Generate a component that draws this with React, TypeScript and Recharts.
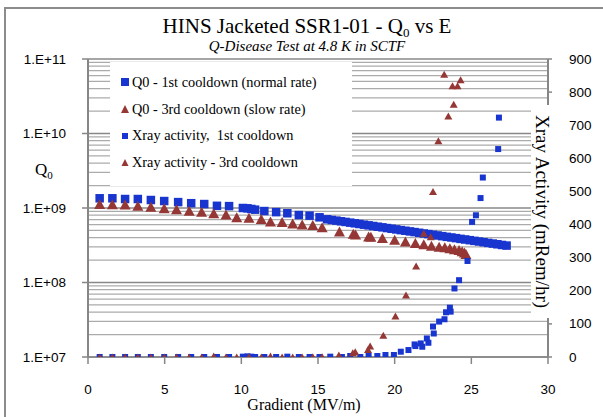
import React from "react";
import { ComposedChart, Scatter, XAxis, YAxis, ReferenceLine } from "recharts";

// Q0 vs gradient, 1st cooldown (normal rate)
const q0FirstE = [
  0.76, 1.59, 2.42, 3.25, 4.1, 4.97, 5.88, 6.73, 7.58, 8.41, 9.2, 10.1, 10.4, 10.65, 10.9, 11.5, 12.27, 13.0, 13.75,
  14.45, 15.1, 15.6, 15.9, 16.2, 16.5, 16.8, 17.1, 17.4, 17.7, 18.0, 18.3, 18.6, 18.9, 19.2, 19.5, 19.8, 20.1, 20.4,
  20.7, 21.0, 21.3, 21.6, 21.9, 22.2, 22.5, 22.8, 23.1, 23.4, 23.7, 24.0, 24.3, 24.6, 24.9, 25.2, 25.5, 25.8, 26.1,
  26.4, 26.7, 27.0, 27.3,
];
const q0First = [
  1.35e9, 1.35e9, 1.32e9, 1.32e9, 1.28e9, 1.24e9, 1.2e9, 1.16e9, 1.13e9, 1.07e9, 1.06e9, 1.0e9, 9.9e8, 9.7e8, 9.5e8,
  9.1e8, 8.8e8, 8.5e8, 8.05e8, 7.9e8, 7.5e8, 7.05e8, 6.9e8, 6.77e8, 6.63e8, 6.5e8, 6.36e8, 6.23e8, 6.1e8, 5.97e8,
  5.85e8, 5.73e8, 5.61e8, 5.5e8, 5.38e8, 5.27e8, 5.16e8, 5.05e8, 4.95e8, 4.85e8, 4.75e8, 4.65e8, 4.55e8, 4.46e8,
  4.37e8, 4.28e8, 4.19e8, 4.1e8, 4.02e8, 3.94e8, 3.85e8, 3.78e8, 3.7e8, 3.62e8, 3.55e8, 3.47e8, 3.4e8, 3.33e8,
  3.26e8, 3.19e8, 3.13e8,
];

// Q0 vs gradient, 3rd cooldown (slow rate)
const q0ThirdE = [
  0.76, 1.59, 2.42, 3.25, 4.1, 4.97, 5.77, 6.6, 7.41, 8.2, 9.0, 9.7, 10.5, 11.3, 11.9, 12.66, 13.35, 13.97, 14.66,
  15.27, 16.4, 17.3, 17.45, 18.3, 18.45, 19.2, 20.0, 20.7, 21.35, 21.9, 22.4, 22.9, 23.27, 23.6, 23.9, 24.2, 24.4,
  24.55, 24.65,
];
const q0Third = [
  1.13e9, 1.12e9, 1.11e9, 1.07e9, 1.04e9, 9.9e8, 9.6e8, 9.2e8, 8.9e8, 8.5e8, 8.2e8, 7.5e8, 7.4e8, 7.1e8, 6.6e8, 6.5e8,
  6.2e8, 6.0e8, 5.9e8, 5.5e8, 4.85e8, 4.5e8, 4.4e8, 4.15e8, 4.1e8, 3.95e8, 3.75e8, 3.55e8, 3.4e8, 3.27e8, 3.12e8,
  3.02e8, 2.97e8, 2.88e8, 2.8e8, 2.73e8, 2.62e8, 2.52e8, 2.41e8,
];

// X-ray activity (mRem/hr), 1st cooldown
const xrayFirstE = [
  0.76, 1.59, 2.42, 3.25, 4.1, 4.97, 5.88, 6.73, 7.58, 8.41, 9.2, 10.1, 10.4, 10.65, 10.9, 11.5, 12.27, 13.0, 13.75,
  14.45, 15.1, 15.8, 16.56, 17.1, 17.76, 18.3, 18.87, 19.4, 19.95, 20.4, 20.9, 21.3, 21.35, 21.7, 21.8, 22.1, 22.2,
  22.5, 22.55, 22.9, 23.25, 23.35, 23.6, 23.65, 23.9, 24.2, 24.75, 25.05, 25.3, 25.6, 25.75, 26.75, 26.8,
];
const xrayFirst = [
  0, 0, 0, 0, 0, 0, 0, 0, 0, 0, 0, 1, 2, 1, 0, 0, 0, 1, 0, 0, 0, 1, 0, 3, 0, 3, 3, 6, 6, 16, 21, 38, 33, 41, 31, 56,
  43, 92, 71, 107, 114, 135, 149, 137, 207, 232, 290, 408, 428, 480, 542, 628, 723,
];

// X-ray activity (mRem/hr), 3rd cooldown
const xrayThirdE = [
  0.76, 1.59, 2.42, 3.25, 4.1, 4.97, 5.77, 6.6, 7.41, 8.2, 9.0, 9.7, 10.5, 11.3, 11.9, 12.66, 13.35, 13.97, 14.66,
  15.27, 16.36, 17.27, 17.43, 18.26, 18.4, 19.26, 20.05, 20.74, 21.4, 21.9, 22.35, 22.5, 22.85, 23.23, 23.5, 23.77,
  23.85, 24.1, 24.3,
];
const xrayThird = [
  0, 0, 0, 0, 0, 0, 0, 0, 0, 3, 0, 0, 1, 0, 3, 0, 0, 0, 1, 1, 6, 13, 16, 23, 33, 66, 124, 187, 275, 374, 363, 500, 653,
  854, 728, 819, 763, 819, 837,
];

const xTicks = [0, 5, 10, 15, 20, 25, 30];
const qTicks = [1e7, 1e8, 1e9, 1e10, 1e11];
const xrayTicks = [0, 100, 200, 300, 400, 500, 600, 700, 800, 900];
const decades = [1e7, 1e8, 1e9, 1e10];
const minorSteps = [2, 3, 4, 5, 6, 7, 8, 9];

const zip = (es: number[], vs: number[]) => es.map((e, i) => ({ e, v: vs[i] }));

const SERIF = '"Liberation Serif", "Times New Roman", serif';
const SANS = '"Liberation Sans", Arial, sans-serif';
const BLUE = "#1835CF";
const BROWN = "#953735";
const GRID_MINOR = "#ababab";
const GRID_MAJOR = "#888888";
const AXIS = "#868686";

const square = (size: number) => (p: any) =>
  p.cx == null ? <g /> : <rect x={p.cx - size / 2} y={p.cy - size / 2} width={size} height={size} fill={BLUE} />;

const triangle = (w: number, h: number) => (p: any) =>
  p.cx == null ? (
    <g />
  ) : (
    <polygon
      points={`${p.cx - w / 2},${p.cy + h / 2} ${p.cx + w / 2},${p.cy + h / 2} ${p.cx},${p.cy - h / 2}`}
      fill={BROWN}
    />
  );

const fmtQ = (v: number) => {
  const exp = Math.round(Math.log10(v));
  return `1.E+${String(exp).padStart(2, "0")}`;
};

const LeftTick = (p: any) => (
  <text x={66} y={p.y} textAnchor="end" dominantBaseline="central" fontFamily={SANS} fontSize={13.5} fill="#000">
    {fmtQ(p.payload.value)}
  </text>
);

const RightTick = (p: any) => (
  <text x={569} y={p.y} textAnchor="start" dominantBaseline="central" fontFamily={SANS} fontSize={13.5} fill="#000">
    {p.payload.value}
  </text>
);

const BottomTick = (p: any) => (
  <text x={p.x} y={389} textAnchor="middle" dominantBaseline="central" fontFamily={SANS} fontSize={13.5} fill="#000">
    {p.payload.value}
  </text>
);

const legendRows = [
  { label: "Q0 - 1st cooldown (normal rate)", kind: "bigSquare" },
  { label: "Q0 - 3rd cooldown (slow rate)", kind: "bigTri" },
  { label: "Xray activity,  1st cooldown", kind: "smallSquare" },
  { label: "Xray activity - 3rd cooldown", kind: "smallTri" },
];

function LegendMark({ kind }: { kind: string }) {
  return (
    <svg width={12} height={12} style={{ display: "block" }}>
      {kind === "bigSquare" && <rect x={2} y={2} width={8} height={8} fill={BLUE} />}
      {kind === "smallSquare" && <rect x={3} y={3} width={6} height={6} fill={BLUE} />}
      {kind === "bigTri" && <polygon points="2,10 10,10 6,2" fill={BROWN} />}
      {kind === "smallTri" && <polygon points="2.5,10 9.5,10 6,3" fill={BROWN} />}
    </svg>
  );
}

export default function App() {
  const gridMinor = decades.flatMap((d) => minorSteps.map((m) => m * d));
  const gridMajor = [...decades, 1e11];
  return (
    <div
      style={{
        position: "absolute",
        left: 0,
        top: 0,
        width: 603,
        height: 417,
        overflow: "hidden",
        background: "#fff",
        fontFamily: SERIF,
      }}
    >
      <div
        style={{
          position: "absolute",
          left: 4,
          top: 7,
          width: 640,
          height: 440,
          borderLeft: "2px solid #8c8c8c",
          borderTop: "2px solid #8c8c8c",
        }}
      />
      <ComposedChart width={603} height={417} margin={{ top: 59, right: 5, bottom: 10, left: 28 }}>
        <XAxis
          type="number"
          dataKey="e"
          domain={[0, 30]}
          ticks={xTicks}
          height={50}
          tickSize={7}
          tick={BottomTick}
          axisLine={{ stroke: AXIS, strokeWidth: 1.5 }}
          tickLine={{ stroke: AXIS, strokeWidth: 1.5 }}
        />
        <YAxis
          yAxisId="left"
          orientation="left"
          type="number"
          dataKey="v"
          scale="log"
          domain={[1e7, 1e11]}
          ticks={qTicks}
          allowDataOverflow
          width={60}
          tickSize={6}
          tick={LeftTick}
          axisLine={{ stroke: AXIS, strokeWidth: 2 }}
          tickLine={{ stroke: AXIS, strokeWidth: 1.5 }}
        />
        <YAxis
          yAxisId="right"
          orientation="right"
          type="number"
          dataKey="v"
          domain={[0, 900]}
          ticks={xrayTicks}
          allowDataOverflow
          width={50}
          tickSize={4}
          tick={RightTick}
          axisLine={{ stroke: AXIS, strokeWidth: 2 }}
          tickLine={{ stroke: AXIS, strokeWidth: 1.5 }}
        />
        {gridMinor.map((g) => (
          <ReferenceLine key={`m${g}`} yAxisId="left" y={g} stroke={GRID_MINOR} strokeWidth={1.3} />
        ))}
        {gridMajor.map((g) => (
          <ReferenceLine key={`M${g}`} yAxisId="left" y={g} stroke={GRID_MAJOR} strokeWidth={1.6} />
        ))}
        <Scatter
          yAxisId="left"
          data={zip(q0FirstE, q0First)}
          dataKey="v"
          shape={square(8.5)}
          isAnimationActive={false}
        />
        <Scatter
          yAxisId="left"
          data={zip(q0ThirdE, q0Third)}
          dataKey="v"
          shape={triangle(11, 10)}
          isAnimationActive={false}
        />
        <Scatter
          yAxisId="right"
          data={zip(xrayFirstE, xrayFirst)}
          dataKey="v"
          shape={square(6)}
          isAnimationActive={false}
        />
        <Scatter
          yAxisId="right"
          data={zip(xrayThirdE, xrayThird)}
          dataKey="v"
          shape={triangle(8, 7)}
          isAnimationActive={false}
        />
      </ComposedChart>

      <div
        style={{
          position: "absolute",
          left: 307,
          top: 13,
          transform: "translateX(-50%)",
          whiteSpace: "nowrap",
          fontSize: 21,
          lineHeight: "26px",
        }}
      >
        HINS Jacketed SSR1-01 - Q<sub style={{ fontSize: 13, verticalAlign: "-4px" }}>0</sub> vs E
      </div>
      <div
        style={{
          position: "absolute",
          left: 307,
          top: 37,
          transform: "translateX(-50%)",
          whiteSpace: "nowrap",
          fontSize: 15,
          fontStyle: "italic",
          lineHeight: "18px",
        }}
      >
        Q-Disease Test at 4.8 K in SCTF
      </div>

      <div style={{ position: "absolute", left: 35, top: 159, fontSize: 17, lineHeight: "22px" }}>
        Q<sub style={{ fontSize: 11, verticalAlign: "-4px" }}>0</sub>
      </div>

      <div
        style={{
          position: "absolute",
          left: 304,
          top: 396,
          transform: "translateX(-50%)",
          whiteSpace: "nowrap",
          fontSize: 16,
          lineHeight: "18px",
        }}
      >
        Gradient (MV/m)
      </div>

      <div
        style={{
          position: "absolute",
          left: 531,
          top: 105,
          width: 22,
          height: 213,
          background: "#fff",
          display: "flex",
          alignItems: "center",
          justifyContent: "center",
          writingMode: "vertical-rl",
          fontSize: 19,
          whiteSpace: "nowrap",
        }}
      >
        Xray Activity (mRem/hr)
      </div>

      <div
        style={{
          position: "absolute",
          left: 110,
          top: 62,
          width: 242,
          height: 124,
          background: "#fff",
          paddingTop: 7,
          boxSizing: "border-box",
          fontFamily: SERIF,
        }}
      >
        {legendRows.map((r) => (
          <div
            key={r.label}
            style={{ display: "flex", alignItems: "center", height: 26.7, fontSize: 14.3, whiteSpace: "pre" }}
          >
            <div style={{ width: 9 }} />
            <LegendMark kind={r.kind} />
            <span style={{ marginLeft: 1 }}>{r.label}</span>
          </div>
        ))}
      </div>
    </div>
  );
}
